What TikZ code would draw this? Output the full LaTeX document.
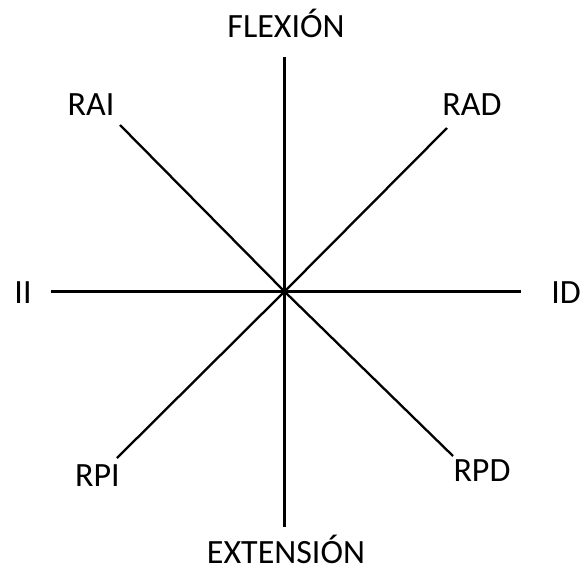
\documentclass[tikz,border=0pt]{standalone}
\usepackage{fontspec}
\setmainfont{Carlito}
\begin{document}
\begin{tikzpicture}[x=1pt, y=-1pt, font=\fontsize{34}{40}\selectfont]
                \useasboundingbox (0,0) rectangle (582,571);
                \coordinate (O) at (284.5,291.5);
                \coordinate (arriba) at (284.5,57);
                \coordinate (abajo) at (284.5,527);
                \coordinate (izq) at (51,291.5);
                \coordinate (der) at (521,291.5);
                \coordinate (rai) at (120,125);
                \coordinate (rad) at (447,128);
                \coordinate (rpi) at (117,458);
                \coordinate (rpd) at (453,456);
                \node[anchor=base] (flexion) at (286,37.7) {FLEXIÓN};
                \node[anchor=base, inner sep=0pt] (extension) at (286,563) {EXTENSIÓN};
                \node[anchor=base] (RAI) at (91,115) {RAI};
                \node[anchor=base] (RAD) at (472,115) {RAD};
                \node[anchor=base] (II) at (23,303) {II};
                \node[anchor=base east, inner sep=0pt] (ID) at (581,303) {ID};
                \node[anchor=base] (RPI) at (97.5,486.6) {RPI};
                \node[anchor=base] (RPD) at (482,481.6) {RPD};
                \draw[line width=2.6pt] (arriba) -- (abajo);
                \draw[line width=2.6pt] (izq) -- (der);
                \draw[line width=2.3pt] (rai) -- (O) -- (rpd);
                \draw[line width=2.3pt] (rad) -- (O) -- (rpi);
            \end{tikzpicture}
\end{document}
